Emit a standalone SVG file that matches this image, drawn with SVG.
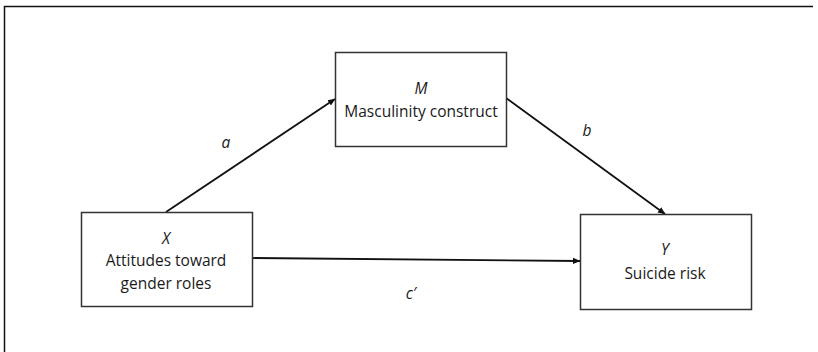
<svg xmlns="http://www.w3.org/2000/svg" width="818" height="352" viewBox="0 0 818 352">
<defs>
<marker id="ah" markerWidth="8" markerHeight="8" refX="7" refY="4" orient="auto" markerUnits="userSpaceOnUse">
<path d="M0,0.8 L7.5,4 L0,7.2 Z" fill="#111"/>
</marker>
<style>
.box{fill:#fff;stroke:#333;stroke-width:1.5}
.t{font-family:"Open Sans","Liberation Sans",sans-serif;font-size:15.5px;fill:#1a1a1a;text-anchor:middle}
.i{font-style:italic}
.c{stroke:#111;stroke-width:1.8;fill:none;marker-end:url(#ah)}
</style>
</defs>
<rect width="818" height="352" fill="#fff"/>
<path d="M4.5,352 V6.5 H813" fill="none" stroke="#111" stroke-width="1.5"/>
<g id="connectors">
<line class="c" x1="166" y1="212" x2="335" y2="99"/>
<line class="c" x1="506" y1="98" x2="665" y2="214"/>
<line class="c" x1="252" y1="258" x2="580" y2="261"/>
<text class="t i" x="226" y="148">a</text>
<text class="t i" x="587" y="136">b</text>
<text class="t i" x="411" y="299">c′</text>
</g>
<g id="M">
<rect class="box" x="335.5" y="52.5" width="171" height="94"/>
<text class="t i" x="421" y="94">M</text>
<text class="t" x="421" y="117">Masculinity construct</text>
</g>
<g id="X">
<rect class="box" x="81.5" y="212.5" width="171" height="94"/>
<text class="t i" x="166" y="244">X</text>
<text class="t" x="166" y="266">Attitudes toward</text>
<text class="t" x="166" y="289">gender roles</text>
</g>
<g id="Y">
<rect class="box" x="580.5" y="214.5" width="171" height="95"/>
<text class="t i" x="665" y="255">Y</text>
<text class="t" x="665" y="279">Suicide risk</text>
</g>
</svg>
